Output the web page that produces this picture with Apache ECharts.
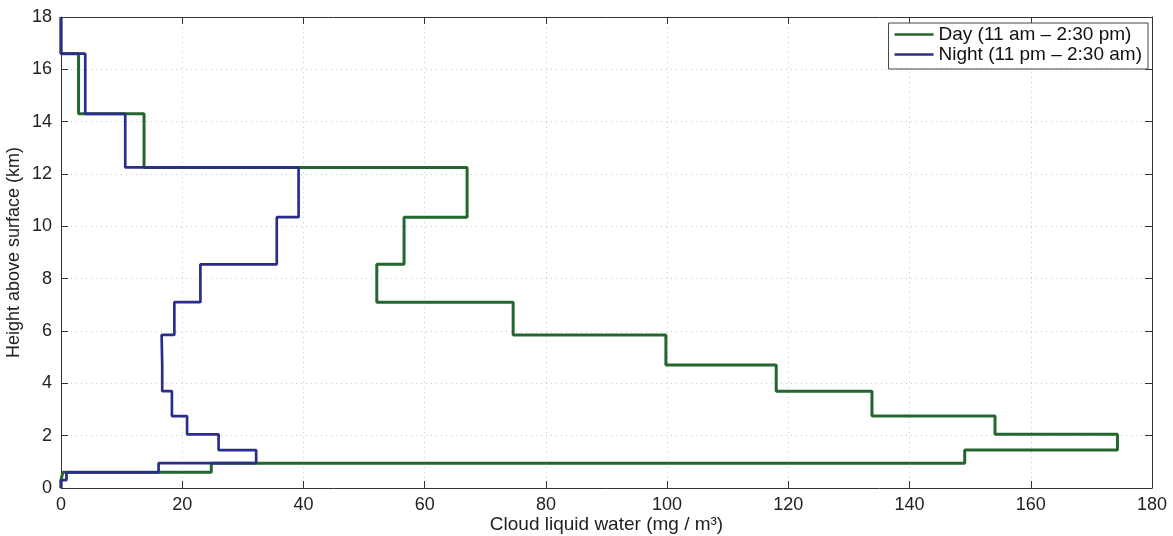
<!DOCTYPE html>
<html>
<head>
<meta charset="utf-8">
<script src="https://cdn.jsdelivr.net/npm/echarts@6/dist/echarts.min.js"></script>
<style>html,body{margin:0;padding:0;background:#fff}#c{width:1173px;height:536px}</style>
</head>
<body>
<div id="c"></div>
<script>
// Layer boundaries (km) and values per layer (mg/m^3)
const heights = [0, 0.3, 0.6, 0.95, 1.45, 2.05, 2.75, 3.7, 4.7, 5.85, 7.1, 8.55, 10.35, 12.25, 14.3, 16.6, 18];
const dayValues = [0, 0.3, 24.8, 149.1, 174.3, 154.1, 133.8, 118, 99.8, 74.6, 52.1, 56.6, 67.0, 13.7, 2.9, 0];
const nightValues = [0, 0.9, 16.1, 32.2, 26.0, 20.8, 18.3, 16.7, 16.6, 18.7, 23.0, 35.6, 39.2, 10.6, 4.0, 0];
const seriesNames = ['Day (11 am \u2013 2:30 pm)', 'Night (11 pm \u2013 2:30 am)'];
const xTicks = [0, 20, 40, 60, 80, 100, 120, 140, 160, 180];
const yTicks = [0, 2, 4, 6, 8, 10, 12, 14, 16, 18];

function stairs(vals) {
  const pts = [];
  for (let i = 0; i < vals.length; i++) {
    pts.push([vals[i], heights[i]]);
    pts.push([vals[i], heights[i + 1]]);
  }
  return pts;
}

const font = 'Liberation Sans, Arial, sans-serif';
const axisCommon = {
  axisLine: { show: true, onZero: false, lineStyle: { color: '#333', width: 1 } },
  axisTick: { show: true, inside: true, length: 7, lineStyle: { color: '#333' } },
};
const xMin = xTicks[0], xMax = xTicks[xTicks.length - 1], xStep = xTicks[1] - xTicks[0];
const yMin = yTicks[0], yMax = yTicks[yTicks.length - 1], yStep = yTicks[1] - yTicks[0];
const chart = echarts.init(document.getElementById('c'));
chart.setOption({
  animation: false,
  backgroundColor: '#fff',
  grid: { left: 61, right: 21, top: 17, bottom: 48, containLabel: false, outerBoundsMode: 'none' },
  legend: {
    right: 25, top: 23, orient: 'vertical', align: 'left',
    itemWidth: 39, itemHeight: 14, itemGap: 1,
    padding: [2, 6, 5, 6],
    borderColor: '#444', borderWidth: 1, backgroundColor: '#fff', borderRadius: 0,
    textStyle: { fontFamily: font, fontSize: 19, color: '#111', lineHeight: 15, padding: [0, 0, 0, 0] },
    data: seriesNames.map(n => ({ name: n, icon: 'path://M0,6 L40,6 L40,8.4 L0,8.4 Z' }))
  },
  xAxis: [{
    type: 'value', min: xMin, max: xMax, interval: xStep,
    name: 'Cloud liquid water (mg / m\u00B3)', nameLocation: 'middle', nameGap: 27,
    nameMoveOverlap: false,
    nameTextStyle: { fontFamily: font, fontSize: 19, color: '#222' },
    axisLabel: { fontFamily: font, fontSize: 18, color: '#222', margin: 8 },
    splitLine: { show: true, lineStyle: { color: '#c8c8c8', type: [1, 4], width: 1 } },
    ...axisCommon
  }, {
    type: 'value', min: xMin, max: xMax, interval: xStep, position: 'top',
    axisLabel: { show: false }, splitLine: { show: false },
    ...axisCommon
  }],
  yAxis: [{
    type: 'value', min: yMin, max: yMax, interval: yStep,
    name: 'Height above surface (km)', nameLocation: 'middle', nameGap: 38,
    nameMoveOverlap: false,
    nameTextStyle: { fontFamily: font, fontSize: 18, color: '#222' },
    axisLabel: { fontFamily: font, fontSize: 18, color: '#222', margin: 9 },
    splitLine: { show: true, lineStyle: { color: '#c8c8c8', type: [1, 4], width: 1 } },
    ...axisCommon
  }, {
    type: 'value', min: yMin, max: yMax, interval: yStep, position: 'right',
    axisLabel: { show: false }, splitLine: { show: false },
    ...axisCommon
  }],
  series: [{
    name: seriesNames[0], type: 'line', data: stairs(dayValues),
    showSymbol: false, symbol: 'none', color: '#23662e',
    lineStyle: { color: '#23662e', width: 3 }, z: 2
  }, {
    name: seriesNames[1], type: 'line', data: stairs(nightValues),
    showSymbol: false, symbol: 'none', color: '#2a2e8a',
    lineStyle: { color: '#2a2e8a', width: 2.7 }, z: 3
  }]
});
</script>
</body>
</html>
